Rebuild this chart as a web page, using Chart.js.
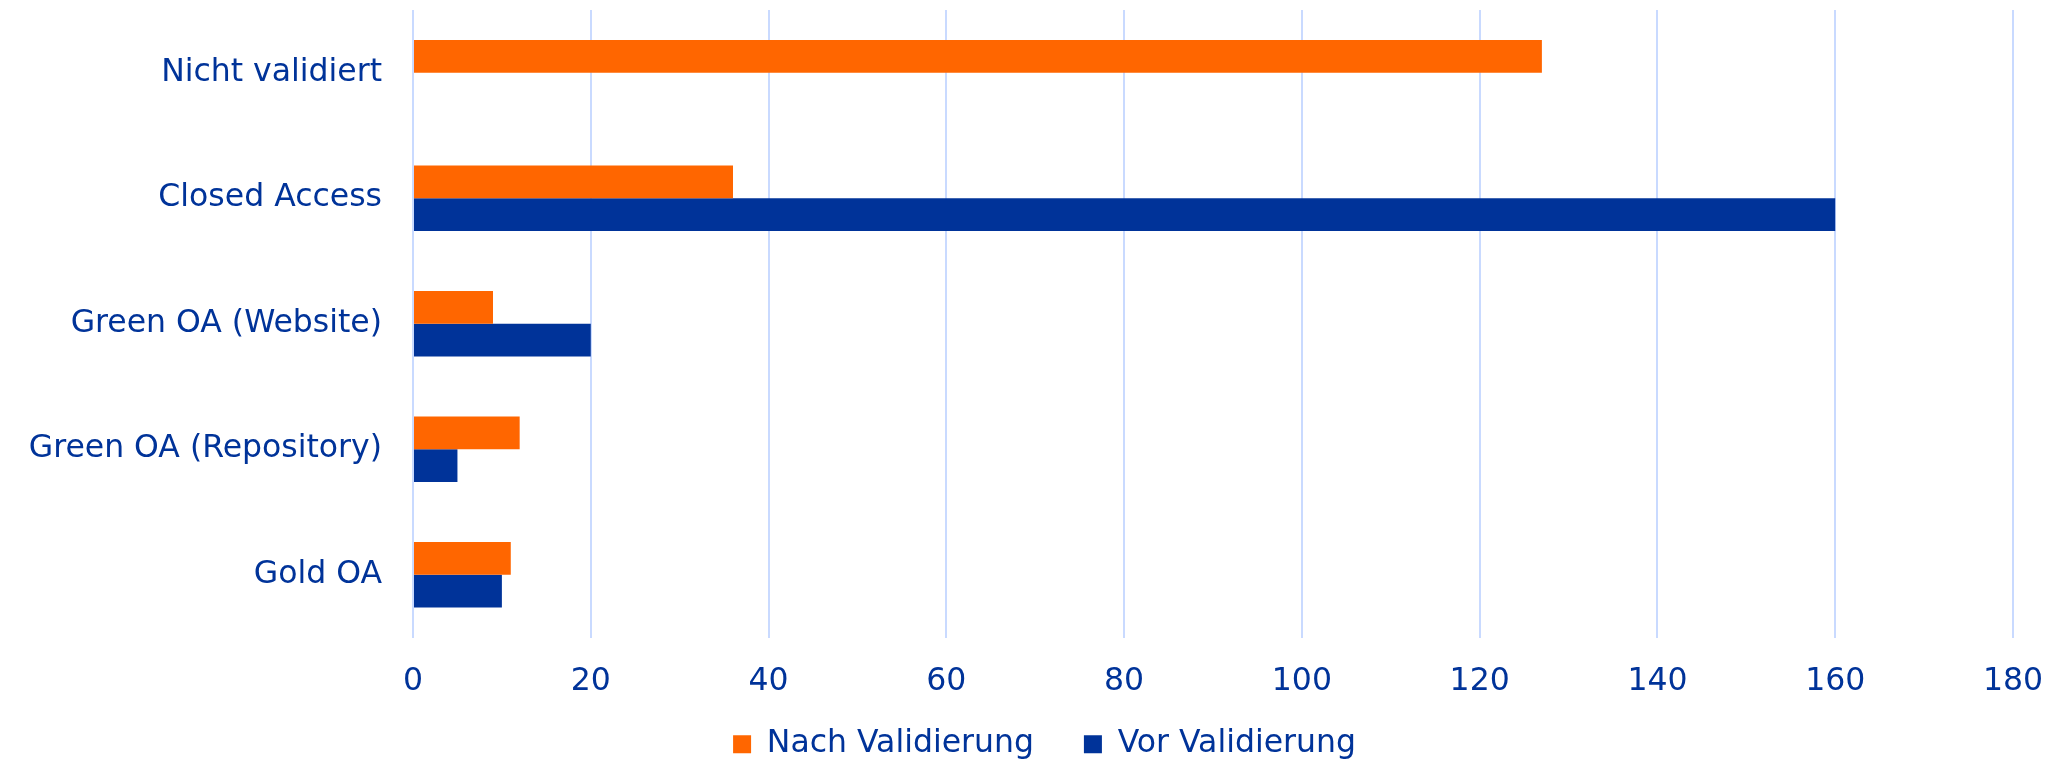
<!DOCTYPE html>
<html>
<head>
<meta charset="utf-8">
<script src="https://cdn.jsdelivr.net/npm/chart.js@4.4.1/dist/chart.umd.min.js"></script>
<style>
  html, body { margin: 0; padding: 0; background: #fff; }
  #wrap { width: 2072px; height: 760px; position: relative; }
</style>
</head>
<body>
<div id="wrap"><canvas id="chart"></canvas></div>
<script>
const categories = ['Nicht validiert', 'Closed Access', 'Green OA (Website)', 'Green OA (Repository)', 'Gold OA'];
const nachValidierung = [127, 36, 9, 12, 11];
const vorValidierung = [0, 160, 20, 5, 10];
const xTicks = [0, 20, 40, 60, 80, 100, 120, 140, 160, 180];

const C = {
  orange: '#ff6600',
  blue:   '#003399',
  grid:   '#c9daff',
  text:   '#003399'
};
const FONT = { family: '"DejaVu Sans", Verdana, sans-serif', size: 31.5 };

// legend sits a bit right of centre in the original; x labels may run past
// the (deliberately short) x-axis box, so stop them being clipped
const layoutTweaks = {
  id: 'layoutTweaks',
  afterLayout(chart) {
    if (chart.legend) {
      chart.legend.left += 38;
      chart.legend.right += 38;
    }
    chart.scales.x.bottom = chart.height;
  }
};

new Chart(document.getElementById('chart'), {
  type: 'bar',
  data: {
    labels: categories,
    datasets: [
      { label: 'Nach Validierung', data: nachValidierung, backgroundColor: C.orange,
        barPercentage: 1, categoryPercentage: 0.52 },
      { label: 'Vor Validierung', data: vorValidierung, backgroundColor: C.blue,
        barPercentage: 1, categoryPercentage: 0.52 }
    ]
  },
  plugins: [layoutTweaks],
  options: {
    indexAxis: 'y',
    responsive: true, maintainAspectRatio: false,
    animation: false,
    layout: { padding: { top: 10, right: 59, bottom: -10, left: 0 } },
    plugins: {
      legend: {
        display: true, position: 'bottom',
        labels: { boxWidth: 18, boxHeight: 18, padding: 50, color: C.text, font: FONT }
      },
      tooltip: { enabled: false }
    },
    scales: {
      x: {
        min: 0, max: 180,
        afterBuildTicks: s => { s.ticks = xTicks.map(v => ({ value: v })); },
        afterFit: s => { s.height = 41; s.paddingLeft = 0; s.paddingRight = 0; },
        grid: { color: C.grid, lineWidth: 2, drawTicks: false },
        border: { display: false },
        ticks: { color: C.text, font: FONT, padding: 25, maxRotation: 0 }
      },
      y: {
        afterFit: s => { s.width = 413; s.paddingTop = 0; s.paddingBottom = 0; },
        grid: { display: false, drawTicks: false },
        border: { display: false },
        ticks: { color: C.text, font: FONT, padding: 31 }
      }
    }
  }
});
</script>
</body>
</html>
